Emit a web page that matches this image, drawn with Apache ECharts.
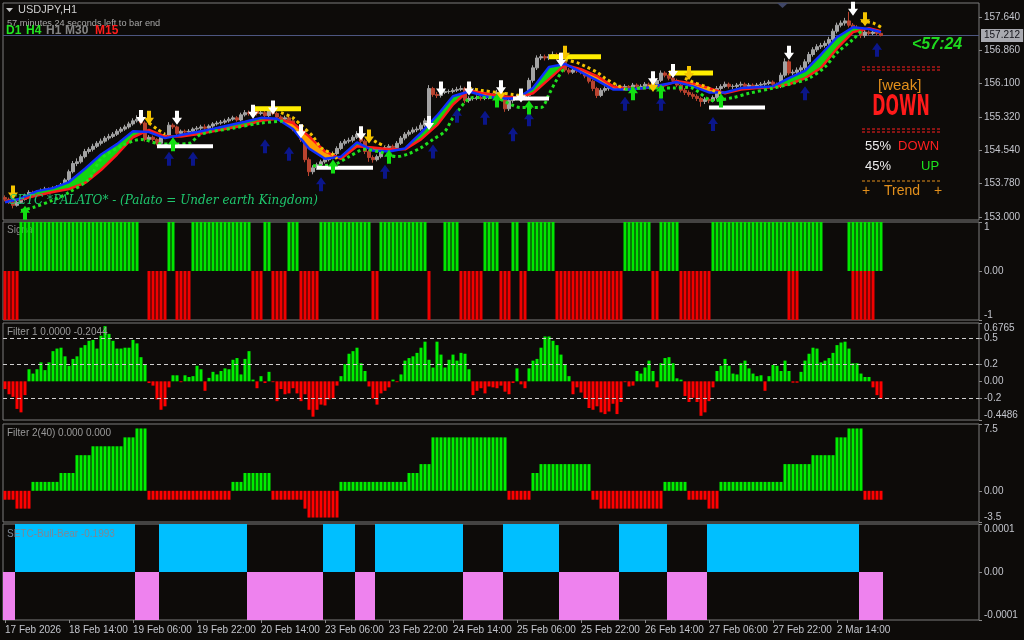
<!DOCTYPE html>
<html><head><meta charset="utf-8">
<script src="https://cdn.jsdelivr.net/npm/echarts@6/dist/echarts.min.js"></script>
<style>html,body{margin:0;padding:0;background:#0d0b09;}#c{width:1024px;height:640px;}</style>
</head><body><div id="c"></div>
<script>
// ---------- DATA ----------
const timeLabels = ['17 Feb 2026','18 Feb 14:00','19 Feb 06:00','19 Feb 22:00','20 Feb 14:00','23 Feb 06:00','23 Feb 22:00','24 Feb 14:00','25 Feb 06:00','25 Feb 22:00','26 Feb 14:00','27 Feb 06:00','27 Feb 22:00','2 Mar 14:00'];
const BARS_PER_LABEL = 16;
const SLOT_COUNT = 244;

const opens = [
153.45,153.41,153.34,153.27,153.34,153.41,153.50,153.57,153.53,153.57,
153.62,153.65,153.60,153.67,153.69,153.74,153.86,154.05,154.24,154.28,
154.40,154.52,154.57,154.64,154.71,154.76,154.83,154.87,154.92,154.99,
155.04,155.09,155.16,155.23,155.27,155.18,154.80,154.85,154.80,154.71,
154.85,154.90,155.13,155.09,154.94,154.99,154.97,154.99,155.04,155.06,
155.09,155.06,155.11,155.16,155.18,155.20,155.23,155.27,155.30,155.25,
155.37,155.42,155.40,155.47,155.40,155.42,155.35,155.47,155.40,155.32,
155.27,155.30,155.23,155.04,154.99,154.80,154.33,154.05,154.14,154.21,
154.28,154.33,154.38,154.47,154.59,154.71,154.76,154.78,154.85,154.92,
154.76,154.52,154.38,154.33,154.40,154.57,154.61,154.64,154.61,154.71,
154.83,154.92,154.97,155.02,155.04,155.13,155.23,155.98,155.84,155.82,
155.89,155.91,155.91,155.94,155.96,155.98,155.70,155.75,155.75,155.77,
155.75,155.77,155.80,155.82,155.89,155.80,155.51,155.70,155.75,155.80,
155.77,155.82,156.17,156.46,156.69,156.72,156.69,156.72,156.77,156.69,
156.60,156.41,156.36,156.41,156.39,156.36,156.27,156.15,155.98,155.82,
155.94,155.98,156.03,156.01,156.03,156.01,156.03,156.01,156.06,156.03,
156.03,156.08,156.03,156.08,156.17,156.34,156.29,156.22,156.17,156.06,
155.94,155.89,155.84,155.80,155.75,155.68,155.73,155.70,155.77,155.98,
156.03,156.08,156.03,156.03,156.06,156.08,156.03,156.06,156.03,156.06,
156.08,156.10,156.13,156.08,156.03,156.29,156.60,156.34,156.36,156.41,
156.46,156.60,156.77,156.88,156.95,156.98,157.03,157.12,157.31,157.45,
157.50,157.55,157.45,157.40,157.36,157.21,157.29,157.26,157.29,157.26];
const closes = [
153.41,153.34,153.27,153.34,153.41,153.50,153.57,153.53,153.57,153.62,
153.65,153.60,153.67,153.69,153.74,153.86,154.05,154.24,154.28,154.40,
154.52,154.57,154.64,154.71,154.76,154.83,154.87,154.92,154.99,155.04,
155.09,155.16,155.23,155.27,155.18,154.80,154.85,154.80,154.71,154.85,
154.90,155.13,155.09,154.94,154.99,154.97,154.99,155.04,155.06,155.09,
155.06,155.11,155.16,155.18,155.20,155.23,155.27,155.30,155.25,155.37,
155.42,155.40,155.47,155.40,155.42,155.35,155.47,155.40,155.32,155.27,
155.30,155.23,155.04,154.99,154.80,154.33,154.05,154.14,154.21,154.28,
154.33,154.38,154.47,154.59,154.71,154.76,154.78,154.85,154.92,154.76,
154.52,154.38,154.33,154.40,154.57,154.61,154.64,154.61,154.71,154.83,
154.92,154.97,155.02,155.04,155.13,155.23,155.98,155.84,155.82,155.89,
155.91,155.91,155.94,155.96,155.98,155.70,155.75,155.75,155.77,155.75,
155.77,155.80,155.82,155.89,155.80,155.51,155.70,155.75,155.80,155.77,
155.82,156.17,156.46,156.69,156.72,156.69,156.72,156.77,156.69,156.60,
156.41,156.36,156.41,156.39,156.36,156.27,156.15,155.98,155.82,155.94,
155.98,156.03,156.01,156.03,156.01,156.03,156.01,156.06,156.03,156.03,
156.08,156.03,156.08,156.17,156.34,156.29,156.22,156.17,156.06,155.94,
155.89,155.84,155.80,155.75,155.68,155.73,155.70,155.77,155.98,156.03,
156.08,156.03,156.03,156.06,156.08,156.03,156.06,156.03,156.06,156.08,
156.10,156.13,156.08,156.03,156.29,156.60,156.34,156.36,156.41,156.46,
156.60,156.77,156.88,156.95,156.98,157.03,157.12,157.31,157.45,157.50,
157.55,157.45,157.40,157.36,157.21,157.29,157.26,157.29,157.26,157.212];
const highs = [
153.50,153.45,153.38,153.38,153.45,153.54,153.62,153.61,153.62,153.66,
153.70,153.69,153.71,153.74,153.79,153.90,154.10,154.30,154.36,154.45,
154.58,154.62,154.70,154.76,154.82,154.88,154.93,154.97,155.04,155.09,
155.14,155.21,155.29,155.36,155.31,155.22,154.90,154.89,154.83,154.89,
154.96,155.20,155.17,155.12,155.03,155.03,155.04,155.08,155.11,155.14,
155.15,155.15,155.20,155.23,155.25,155.28,155.32,155.35,155.34,155.42,
155.48,155.47,155.55,155.51,155.48,155.46,155.53,155.50,155.44,155.36,
155.35,155.33,155.27,155.09,155.03,154.85,154.38,154.20,154.26,154.33,
154.38,154.43,154.52,154.64,154.76,154.81,154.84,154.90,154.99,154.95,
154.80,154.56,154.43,154.45,154.62,154.66,154.69,154.68,154.76,154.88,
154.97,155.02,155.08,155.10,155.19,155.29,156.06,156.02,155.90,155.95,
155.97,155.96,155.99,156.02,156.05,156.02,155.80,155.80,155.82,155.81,
155.82,155.85,155.87,155.95,155.93,155.84,155.75,155.80,155.85,155.84,
155.87,156.23,156.52,156.75,156.78,156.77,156.78,156.84,156.81,156.72,
156.64,156.46,156.46,156.45,156.43,156.40,156.31,156.19,156.02,155.99,
156.03,156.08,156.07,156.08,156.07,156.08,156.06,156.11,156.10,156.08,
156.13,156.12,156.13,156.22,156.40,156.38,156.33,156.26,156.21,156.10,
155.99,155.94,155.89,155.85,155.79,155.78,155.77,155.82,156.04,156.08,
156.14,156.12,156.08,156.11,156.14,156.12,156.11,156.10,156.11,156.13,
156.16,156.18,156.17,156.12,156.35,156.68,156.64,156.42,156.47,156.52,
156.66,156.83,156.94,157.01,157.04,157.09,157.18,157.37,157.51,157.56,
157.62,157.76,157.50,157.45,157.40,157.34,157.33,157.33,157.32,157.30];
const lows = [
153.36,153.30,153.20,153.24,153.31,153.38,153.47,153.49,153.50,153.54,
153.58,153.56,153.57,153.63,153.65,153.71,153.83,154.01,154.18,154.24,
154.36,154.47,154.52,154.60,154.66,154.72,154.78,154.83,154.88,154.95,
155.00,155.05,155.12,155.19,155.13,154.75,154.74,154.75,154.66,154.68,
154.81,154.87,155.04,154.90,154.90,154.93,154.93,154.95,155.00,155.02,
155.01,155.03,155.07,155.12,155.14,155.16,155.19,155.23,155.21,155.22,
155.33,155.35,155.37,155.35,155.36,155.30,155.32,155.36,155.27,155.22,
155.23,155.18,154.99,154.93,154.74,154.27,153.95,153.99,154.09,154.16,
154.24,154.29,154.34,154.43,154.55,154.66,154.71,154.73,154.81,154.71,
154.46,154.28,154.26,154.29,154.36,154.52,154.56,154.56,154.57,154.67,
154.78,154.87,154.93,154.97,155.00,155.09,155.18,155.79,155.76,155.77,
155.85,155.86,155.87,155.90,155.92,155.64,155.65,155.70,155.71,155.70,
155.71,155.73,155.76,155.78,155.75,155.44,155.46,155.65,155.71,155.72,
155.72,155.75,156.12,156.41,156.64,156.63,156.64,156.67,156.64,156.55,
156.36,156.31,156.32,156.34,156.31,156.22,156.10,155.92,155.76,155.78,
155.89,155.93,155.97,155.97,155.96,155.97,155.96,155.97,155.99,155.98,
155.99,155.98,155.99,156.04,156.13,156.24,156.17,156.12,156.01,155.89,
155.83,155.79,155.74,155.69,155.56,155.62,155.64,155.66,155.73,155.93,
155.99,155.98,155.97,155.99,156.02,155.98,155.98,155.98,155.99,156.01,
156.04,156.06,156.03,155.97,155.99,156.24,156.29,156.29,156.31,156.36,
156.41,156.55,156.72,156.83,156.90,156.93,156.98,157.07,157.26,157.40,
157.44,157.40,157.34,157.30,157.15,157.16,157.21,157.22,157.21,157.19];

// moving-average ribbon knots (bar index, fast, slow)
const ribbonBars = [0,4,8,12,16,20,24,28,32,36,40,44,48,52,56,60,64,68,72,76,80,84,88,92,96,100,104,108,112,116,120,124,128,132,136,140,144,148,152,156,160,164,168,172,176,180,184,188,192,196,200,204,208,212,216,219];
const ribbonFast = [153.34,153.43,153.60,153.67,153.81,154.12,154.45,154.69,154.99,154.97,154.83,154.90,154.97,155.04,155.13,155.21,155.30,155.28,155.04,154.59,154.35,154.40,154.73,154.54,154.52,154.59,154.95,155.35,155.80,155.91,155.80,155.75,155.75,155.99,156.48,156.55,156.36,156.17,155.96,155.96,155.99,156.06,156.13,156.03,155.89,155.89,155.99,156.01,156.03,156.22,156.39,156.77,157.17,157.40,157.36,157.29];
const ribbonSlow = [153.36,153.41,153.50,153.58,153.65,153.79,154.09,154.45,154.85,155.02,154.87,154.87,154.92,154.99,155.06,155.13,155.23,155.28,155.18,154.87,154.52,154.35,154.64,154.61,154.57,154.57,154.80,155.13,155.61,155.94,155.87,155.80,155.77,155.87,156.20,156.53,156.43,156.27,156.03,155.96,155.99,156.03,156.15,156.10,155.99,155.87,155.96,155.99,156.01,156.08,156.22,156.46,156.91,157.29,157.38,157.31];

// slow dotted lines: visible pieces [bar, price]
const yellowDotted = [
 [[36,155.18],[38,155.04],[40,154.92]],
 [[69,155.42],[72,155.30],[74,155.13],[77,154.87],[79,154.61],[82,154.45],[83,154.35]],
 [[91,154.85],[93,154.73],[95,154.64]],
 [[116,155.99],[119,155.94],[123,155.89],[127,155.84],[130,155.80]],
 [[140,156.65],[143,156.58],[145,156.50],[148,156.36],[150,156.22],[153,156.06],[155,155.96]],
 [[170,156.22],[172,156.13],[175,156.03],[177,155.94],[179,155.87]],
 [[214,157.55],[217,157.50],[219,157.40]]
];
const greenDotted = [
 [[4,153.15],[7,153.22],[12,153.39],[16,153.57],[21,153.88],[24,154.35],[29,154.64],[34,154.80],[38,154.71],[42,154.69],[46,154.71],[49,154.92],[57,155.06],[64,155.18],[70,155.23]],
 [[77,154.19],[82,154.21],[86,154.40],[90,154.57],[94,154.50],[98,154.40],[101,154.47],[104,154.61],[107,154.80],[110,154.99],[112,155.30],[117,155.77],[122,155.77],[129,155.54],[134,155.54],[136,155.85],[138,156.20],[140,156.48]],
 [[155,155.96],[159,155.99],[167,155.99],[171,156.01],[177,155.70],[182,155.77],[186,155.87],[192,155.99],[197,156.10],[201,156.22],[205,156.48],[208,156.81],[212,157.12],[214,157.31]]
];

// horizontal levels [fromBar, toBar, price]
const whiteLevels = [[38,52,154.64],[78,92,154.14],[127,136,155.75],[176,190,155.54]];
const yellowLevels = [[62,74,155.51],[136,149,156.72],[166,177,156.34]];

// arrows [bar, price]
const whiteDown = [[34,155.32],[43,155.30],[62,155.44],[67,155.54],[74,154.99],[89,154.94],[106,155.18],[109,155.98],[116,155.98],[124,156.01],[129,155.82],[139,156.65],[162,156.22],[167,156.39],[196,156.81],[212,157.83]];
const yellowDown = [[2,153.57],[36,155.30],[91,154.87],[124,155.89],[140,156.81],[162,156.06],[171,156.34],[215,157.59]];
const greenUp = [[5,153.10],[42,154.69],[82,154.17],[96,154.40],[123,155.70],[131,155.54],[157,155.87],[164,155.91],[179,155.70]];
const navyUp = [[41,154.35],[47,154.35],[65,154.64],[71,154.47],[79,153.76],[95,154.05],[107,154.52],[113,155.35],[120,155.30],[127,154.92],[131,155.27],[155,155.63],[164,155.63],[177,155.16],[200,155.87],[218,156.88]];

const currentPrice = 157.212;
const priceTicks = [153.000,153.780,154.540,155.320,156.100,156.860,157.640];

// Signal buffers as runs [value, count]: up (+1) and down (-1)
const signalUpRuns = [[0,4],[1,30],[0,7],[1,2],[0,4],[1,15],[0,3],[1,2],[0,4],[1,3],[0,5],[1,13],[0,2],[1,12],[0,4],[1,4],[0,6],[1,4],[0,3],[1,2],[0,2],[1,7],[0,17],[1,7],[0,2],[1,5],[0,8],[1,28],[0,6],[1,9]];
const signalDownRuns = [[-1,4],[0,32],[-1,5],[0,2],[-1,4],[0,15],[-1,3],[0,2],[-1,4],[0,3],[-1,5],[0,13],[-1,2],[0,12],[-1,1],[0,7],[-1,6],[0,4],[-1,3],[0,2],[-1,2],[0,7],[-1,17],[0,7],[-1,2],[0,5],[-1,8],[0,19],[-1,3],[0,13],[-1,6],[0,2]];

const filter1 = [
-0.09,-0.15,-0.18,-0.32,-0.36,-0.16,0.14,0.09,0.14,0.22,
0.13,0.22,0.35,0.38,0.39,0.29,0.18,0.26,0.29,0.39,
0.42,0.47,0.48,0.38,0.53,0.64,0.55,0.47,0.38,0.38,
0.39,0.39,0.48,0.44,0.28,0.20,-0.02,-0.05,-0.21,-0.33,
-0.29,-0.07,0.07,0.07,-0.01,0.07,0.05,0.06,0.18,0.14,
-0.11,0.04,0.11,0.08,0.12,0.15,0.14,0.25,0.27,0.08,
0.26,0.35,0.02,-0.08,0.06,-0.02,0.11,-0.01,-0.23,-0.09,
-0.15,-0.14,-0.08,-0.14,-0.23,-0.15,-0.33,-0.41,-0.33,-0.27,
-0.28,-0.21,-0.20,-0.05,0.06,0.20,0.32,0.35,0.39,0.21,
0.12,-0.06,-0.20,-0.27,-0.14,-0.11,-0.07,0.02,-0.01,0.08,
0.24,0.27,0.29,0.33,0.39,0.46,0.25,0.16,0.46,0.31,
0.16,0.25,0.31,0.24,0.33,0.32,0.14,-0.16,-0.11,-0.08,
-0.14,-0.06,-0.07,-0.08,-0.05,-0.12,-0.15,-0.02,0.15,-0.035,
-0.08,0.15,0.24,0.26,0.39,0.52,0.52,0.47,0.42,0.31,
0.20,0.06,-0.15,-0.07,-0.13,-0.20,-0.31,-0.33,-0.29,-0.36,
-0.38,-0.35,-0.26,-0.38,-0.24,-0.01,-0.06,-0.05,0.12,0.09,
0.16,0.24,0.12,-0.07,0.21,0.27,0.28,0.21,0.035,0.02,
-0.17,-0.24,-0.19,-0.24,-0.40,-0.36,-0.23,-0.07,0.12,0.18,
0.26,0.18,0.09,0.08,0.21,0.24,0.15,0.09,0.06,0.07,
-0.11,0.06,0.19,0.18,0.12,0.24,0.12,-0.016,-0.016,0.11,
0.24,0.32,0.39,0.38,0.22,0.24,0.27,0.33,0.42,0.45,
0.46,0.38,0.21,0.21,0.09,0.05,0.05,-0.07,-0.16,-0.20];
const filter1Levels = [0.5, 0.2, -0.2];
const filter1Ticks = [-0.4486,-0.2,0,0.2,0.5,0.6765];
const filter1TickLabels = ['-0.4486','-0.2','0.00','0.2','0.5','0.6765'];

// Filter 2 step levels as runs [value, count]
const filter2Runs = [[-1,3],[-2,4],[1,7],[2,4],[4,4],[5,8],[6,3],[7,3],[-1,21],[1,3],[2,7],[-1,8],[-2,1],[-3,8],[1,17],[2,3],[3,3],[6,19],[-1,6],[2,2],[3,13],[-1,2],[-2,16],[1,6],[-1,5],[-2,3],[1,16],[3,7],[4,6],[6,3],[7,4],[-1,5]];
const filter2Ticks = [-3.5,0,7.5];
const filter2TickLabels = ['-3.5','0.00','7.5'];

// Bull/Bear blocks as runs [sign, count]
const bullBearRuns = [[-1,3],[1,30],[-1,6],[1,22],[-1,19],[1,8],[-1,5],[1,22],[-1,10],[1,14],[-1,15],[1,12],[-1,10],[1,38],[-1,6]];
const bullBearUnit = 0.0001;
const bbTicks = [-0.0001,0,0.0001];
const bbTickLabels = ['-0.0001','0.00','0.0001'];
const signalTicks = [-1,0,1];
const signalTickLabels = ['-1','0.00','1'];

// ---------- BUILD ----------
function expandRuns(runs){ const out=[]; runs.forEach(([v,n])=>{ for(let k=0;k<n;k++) out.push(v); }); return out; }
const categories = Array.from({length:SLOT_COUNT},(_,i)=> (i%BARS_PER_LABEL===0 && timeLabels[i/BARS_PER_LABEL]) ? timeLabels[i/BARS_PER_LABEL] : '');
const candleData = closes.map((c,i)=>[opens[i], c, lows[i], highs[i]]);
const signalUp = expandRuns(signalUpRuns).map(v=>v===0?'-':v);
const signalDown = expandRuns(signalDownRuns).map(v=>v===0?'-':v);
const filter2Data = expandRuns(filter2Runs);
const bullBearData = expandRuns(bullBearRuns).map(s=>s*bullBearUnit);

const BG = '#0d0b09', BORDER = '#7c7c7c', LBL = '#c3c5cc';
const FONT = 'Liberation Sans';
const gridsPx = [[3,217],[222,98],[323,97],[424,98],[524,96]];
const grids = gridsPx.map(([t,h])=>({left:3, right:45, top:t, height:h, show:true, borderColor:BORDER, borderWidth:1, backgroundColor:'transparent'}));

const xAxes = gridsPx.map((_,g)=>({
  gridIndex:g, type:'category', data:categories, boundaryGap:true,
  axisLine:{show:false, onZero:false}, splitLine:{show:false},
  axisTick: g===4 ? {show:true, alignWithLabel:true, interval:(i,v)=>v!=='', length:3, lineStyle:{color:'#8a8a8a'}} : {show:false},
  axisLabel: g===4 ? {show:true, interval:0, align:'left', color:LBL, fontSize:10, fontFamily:FONT, margin:5, formatter:v=>v} : {show:false}
}));

function lab(ticks, labels, edge){
  return {show:true, customValues:ticks, color:LBL, fontSize:10, fontFamily:FONT, margin:5,
    formatter:v=>{ const k=ticks.findIndex(t=>Math.abs(t-v)<1e-9); return k>=0?labels[k]:''; },
    ...(edge?{verticalAlignMinLabel:'bottom', verticalAlignMaxLabel:'top'}:{})};
}
function yAx(g, min, max, ticks, labels, edge){
  return {gridIndex:g, type:'value', position:'right', min, max, scale:true,
    axisLine:{show:false}, splitLine:{show:false},
    axisTick:{show:true, customValues:ticks, length:3, lineStyle:{color:'#8a8a8a'}},
    axisLabel:lab(ticks, labels, edge)};
}
const yAxes = [
  yAx(0, 152.930, 157.965, priceTicks, priceTicks.map(v=>v.toFixed(3)), false),
  yAx(1, -1, 1, signalTicks, signalTickLabels, true),
  yAx(2, -0.4486, 0.6765, filter1Ticks, filter1TickLabels, true),
  yAx(3, -3.5, 7.5, filter2Ticks, filter2TickLabels, true),
  yAx(4, -0.0001, 0.0001, bbTicks, bbTickLabels, true)
];

const DOWN_ARROW = 'path://M3,0L7,0L7,6L10,6L5,12L0,6L3,6Z';
const UP_ARROW = 'path://M5,0L10,6L7,6L7,12L3,12L3,6L0,6Z';

const series = [];
series.push({type:'candlestick', xAxisIndex:0, yAxisIndex:0, data:candleData, barWidth:3, z:2,
  itemStyle:{color:'#a3a3a3', color0:'#b9432f', borderColor:'#a3a3a3', borderColor0:'#b9432f', borderWidth:1},
  markLine:{silent:true, symbol:'none', animation:false, z:1,
    lineStyle:{color:'#4d5680', type:'solid', width:1},
    label:{show:true, position:'end', distance:2, formatter:()=>currentPrice.toFixed(3), backgroundColor:'#a9aab0', color:'#14141a', padding:[2,3,1,3], fontSize:10, fontFamily:FONT},
    data:[{yAxis:currentPrice}]}
});
// ribbon fill
series.push({type:'custom', xAxisIndex:0, yAxisIndex:0, z:3, encode:{x:0,y:2},
  data: ribbonBars.slice(0,-1).map((b,k)=>[b, ribbonBars[k+1], ribbonFast[k], ribbonFast[k+1], ribbonSlow[k], ribbonSlow[k+1]]),
  renderItem:(params, api)=>{
    const x0=api.value(0), x1=api.value(1), f0=api.value(2), f1=api.value(3), s0=api.value(4), s1=api.value(5);
    const pts=[api.coord([x0,f0]),api.coord([x1,f1]),api.coord([x1,s1]),api.coord([x0,s0])];
    const up=(f0+f1)>=(s0+s1);
    return {type:'polygon', shape:{points:pts}, style:{fill: up?'#12d412':'#ff9d00'}};
  }});
series.push({type:'line', xAxisIndex:0, yAxisIndex:0, z:4, data:ribbonBars.map((b,k)=>[b,ribbonSlow[k]]), symbol:'none', lineStyle:{color:'#ff1a1a', width:2.5}});
series.push({type:'line', xAxisIndex:0, yAxisIndex:0, z:4, data:ribbonBars.map((b,k)=>[b,ribbonFast[k]]), symbol:'none', lineStyle:{color:'#1030ff', width:2.5}});
yellowDotted.forEach(seg=>series.push({type:'line', xAxisIndex:0, yAxisIndex:0, z:5, data:seg, symbol:'none', smooth:0.3, lineStyle:{color:'#f2c200', width:3, type:[3,3]}}));
greenDotted.forEach(seg=>series.push({type:'line', xAxisIndex:0, yAxisIndex:0, z:5, data:seg, symbol:'none', smooth:0.3, lineStyle:{color:'#1ee01e', width:3, type:[3,3]}}));
function levelSeries(arr, color, w){
  return {type:'custom', xAxisIndex:0, yAxisIndex:0, z:6, encode:{x:0,y:2}, data:arr,
    renderItem:(p,api)=>{ const a=api.coord([api.value(0),api.value(2)]), b=api.coord([api.value(1),api.value(2)]);
      return {type:'line', shape:{x1:a[0],y1:a[1],x2:b[0],y2:b[1]}, style:{stroke:color, lineWidth:w}}; }};
}
series.push(levelSeries(whiteLevels,'#ffffff',4));
series.push(levelSeries(yellowLevels,'#ffee00',5));
function arrowSeries(arr, sym, color){
  return {type:'scatter', xAxisIndex:0, yAxisIndex:0, z:7, data:arr, symbol:sym, symbolSize:[10,14], itemStyle:{color:color, opacity:1}};
}
series.push(arrowSeries(navyUp, UP_ARROW, '#0b168a'));
series.push(arrowSeries(greenUp, UP_ARROW, '#12e012'));
series.push(arrowSeries(yellowDown, DOWN_ARROW, '#f5c400'));
series.push(arrowSeries(whiteDown, DOWN_ARROW, '#ffffff'));
// Signal (two buffers share one slot)
series.push({type:'bar', xAxisIndex:1, yAxisIndex:1, data:signalUp, barWidth:3, barGap:'-100%', z:3, itemStyle:{color:'#00e600'}});
series.push({type:'bar', xAxisIndex:1, yAxisIndex:1, data:signalDown, barWidth:3, barGap:'-100%', z:3, itemStyle:{color:'#f00000'}});
// Filter 1
series.push({type:'bar', xAxisIndex:2, yAxisIndex:2, data:filter1, barWidth:3, z:3,
  itemStyle:{color:p=>p.value>=0?'#00ee00':'#ff0000'},
  markLine:{silent:true, symbol:'none', animation:false, label:{show:false},
    lineStyle:{color:'#cfcfcf', type:[4,3], width:1}, data:filter1Levels.map(v=>({yAxis:v}))}});
// Filter 2
series.push({type:'bar', xAxisIndex:3, yAxisIndex:3, data:filter2Data, barWidth:3, z:3,
  itemStyle:{color:p=>p.value>=0?'#00ee00':'#ff0000'}});
// Bull/Bear
series.push({type:'bar', xAxisIndex:4, yAxisIndex:4, data:bullBearData, barWidth:4, barCategoryGap:0, z:3,
  itemStyle:{color:p=>p.value>=0?'#00bfff':'#ee82ee'}});

function txt(x,y,text,fill,font,extra){ return Object.assign({type:'text', z:100, style:{x,y,text,fill,font,verticalAlign:'middle'}}, extra||{}); }
function dash(x1,x2,y,color){ return {type:'line', z:100, shape:{x1,y1:y,x2,y2:y}, style:{stroke:color, lineWidth:1, lineDash:[3,2]}}; }
const graphic = [
  {type:'polygon', z:100, shape:{points:[[6,8],[13,8],[9.5,12]]}, style:{fill:'#c8c8c8'}},
  txt(18,10,'USDJPY,H1','#cfcfcf','11px '+FONT),
  txt(7,23,'57 minutes 24 seconds left to bar end','#a8a8a8','9.2px '+FONT),
  txt(6,31,'D1','#22e622','bold 12px '+FONT),
  txt(26,31,'H4','#22e622','bold 12px '+FONT),
  txt(46,31,'H1','#858585','bold 12px '+FONT),
  txt(65,31,'M30','#858585','bold 12px '+FONT),
  txt(95,31,'M15','#ff1c1c','bold 12px '+FONT),
  {type:'polygon', z:100, shape:{points:[[777,3],[788,3],[782.5,8]]}, style:{fill:'#3f4666'}},
  txt(912,45,'<57:24','#1ed81e','italic bold 16px '+FONT),
  dash(862,941,67,'#ff2020'), dash(862,941,70,'#ff2020'),
  txt(878,86,'[weak]','#e3901c','15px '+FONT),
  {type:'text', z:100, x:901, y:108, scaleX:0.88, scaleY:1.6, style:{x:0,y:0,text:'DOWN',fill:'#ff1a1a',font:'bold 18px DejaVu Sans',align:'center',verticalAlign:'middle'}},
  dash(862,941,129,'#ff2020'), dash(862,941,132,'#ff2020'),
  txt(865,146,'55%','#eeeeee','13px '+FONT),
  txt(898,146,'DOWN','#ff2020','13px '+FONT),
  txt(865,166,'45%','#eeeeee','13px '+FONT),
  txt(921,166,'UP','#1ee01e','13px '+FONT),
  dash(862,941,181,'#e3901c'),
  txt(862,191,'+','#e3901c','14px '+FONT),
  txt(884,191,'Trend','#e3901c','14px '+FONT),
  txt(934,191,'+','#e3901c','14px '+FONT),
  txt(9,201,'SETC *PALATO* - (Palato = Under earth Kingdom)','#1fc86e','italic 12px DejaVu Serif'),
  Object.assign(txt(7,230,'Signal','#8c8c8c','10px '+FONT),{z:0}),
  txt(7,332,'Filter 1 0.0000 -0.2044','#9a9a9a','10px '+FONT),
  txt(7,433,'Filter 2(40) 0.000 0.000','#9a9a9a','10px '+FONT),
  txt(7,534,'SETC-Bull-Bear -0.1993','#7d8794','10px '+FONT)
];

const chart = echarts.init(document.getElementById('c'));
chart.setOption({
  backgroundColor:BG, animation:false,
  grid:grids, xAxis:xAxes, yAxis:yAxes, series, graphic
});
</script></body></html>
